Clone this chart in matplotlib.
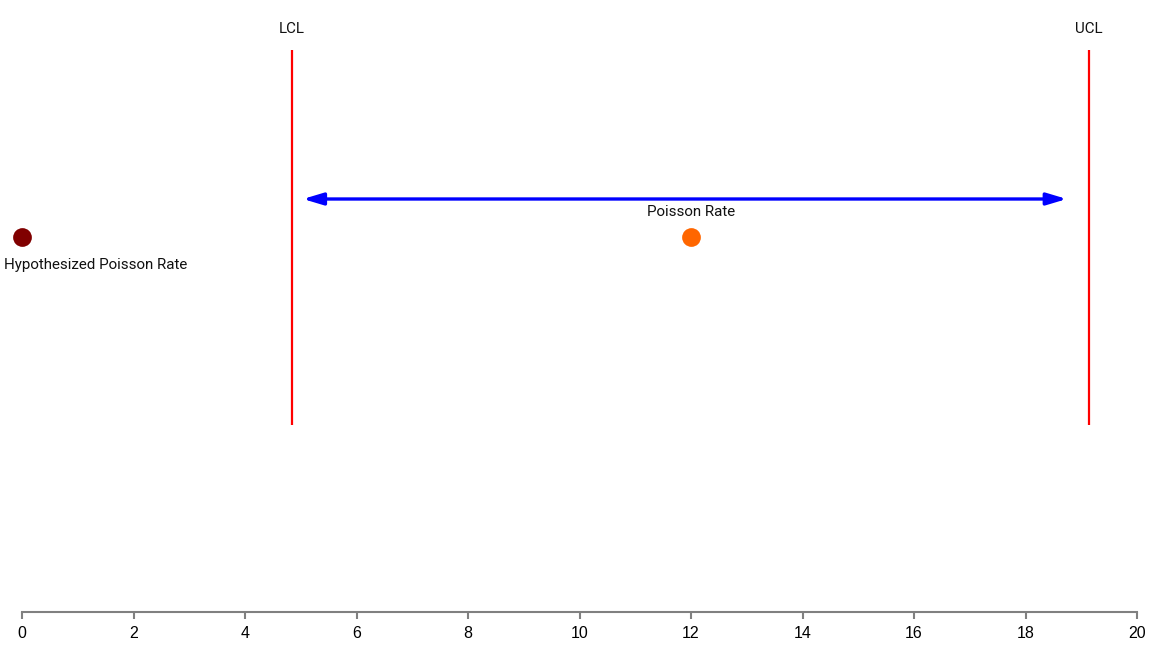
import matplotlib
matplotlib.use("Agg")
import matplotlib.pyplot as plt

# data
hyp_rate = 0.0
poisson_rate = 12.0
lcl = 4.84
ucl = 19.14
arrow_lo = 5.04
arrow_hi = 18.74
xticks = list(range(0, 21, 2))

W, H = 1149, 649
fig = plt.figure(figsize=(W / 100, H / 100), dpi=100)
ax = fig.add_axes([22 / W, (H - 612) / H, 1115 / W, 612 / H])
ax.set_xlim(0, 20)
ax.set_ylim(0, 1)

def fy(py):
    return (612 - py) / 612

label_font = ["Roboto", "DejaVu Sans"]
fs = 10.9

for v, name in [(lcl, "LCL"), (ucl, "UCL")]:
    ax.plot([v, v], [fy(425), fy(50)], color="#ff0000", lw=1.6, solid_capstyle="butt", clip_on=False)
    ax.text(v, fy(29), name, ha="center", va="center", fontsize=fs, family=label_font, color="#111111")

ax.annotate("", xy=(arrow_hi, fy(199)), xytext=(arrow_lo, fy(199)),
            arrowprops=dict(arrowstyle="<|-|>,head_length=1.2,head_width=0.36",
                            color="#0000ff", lw=2.4, shrinkA=0, shrinkB=0))

ax.plot([hyp_rate], [fy(237)], "o", ms=13.5, color="#800000", clip_on=False, mec="none")
ax.plot([poisson_rate], [fy(237)], "o", ms=13.5, color="#ff6600", clip_on=False, mec="none")
ax.text(hyp_rate - 0.32, fy(265.5), "Hypothesized Poisson Rate", ha="left", va="center",
        fontsize=fs, family=label_font, color="#111111")
ax.text(poisson_rate, fy(212.5), "Poisson Rate", ha="center", va="center",
        fontsize=fs, family=label_font, color="#111111")

for s in ["top", "right", "left"]:
    ax.spines[s].set_visible(False)
ax.spines["bottom"].set_color("#808080")
ax.spines["bottom"].set_linewidth(1.5)
ax.set_yticks([])
ax.set_xticks(xticks)
ax.set_xticklabels([str(t) for t in xticks], family="Liberation Sans", fontsize=11.5)
ax.tick_params(axis="x", colors="#808080", length=5, width=1.5, labelcolor="#000000", pad=5)

fig.savefig("out.png", dpi=100)
